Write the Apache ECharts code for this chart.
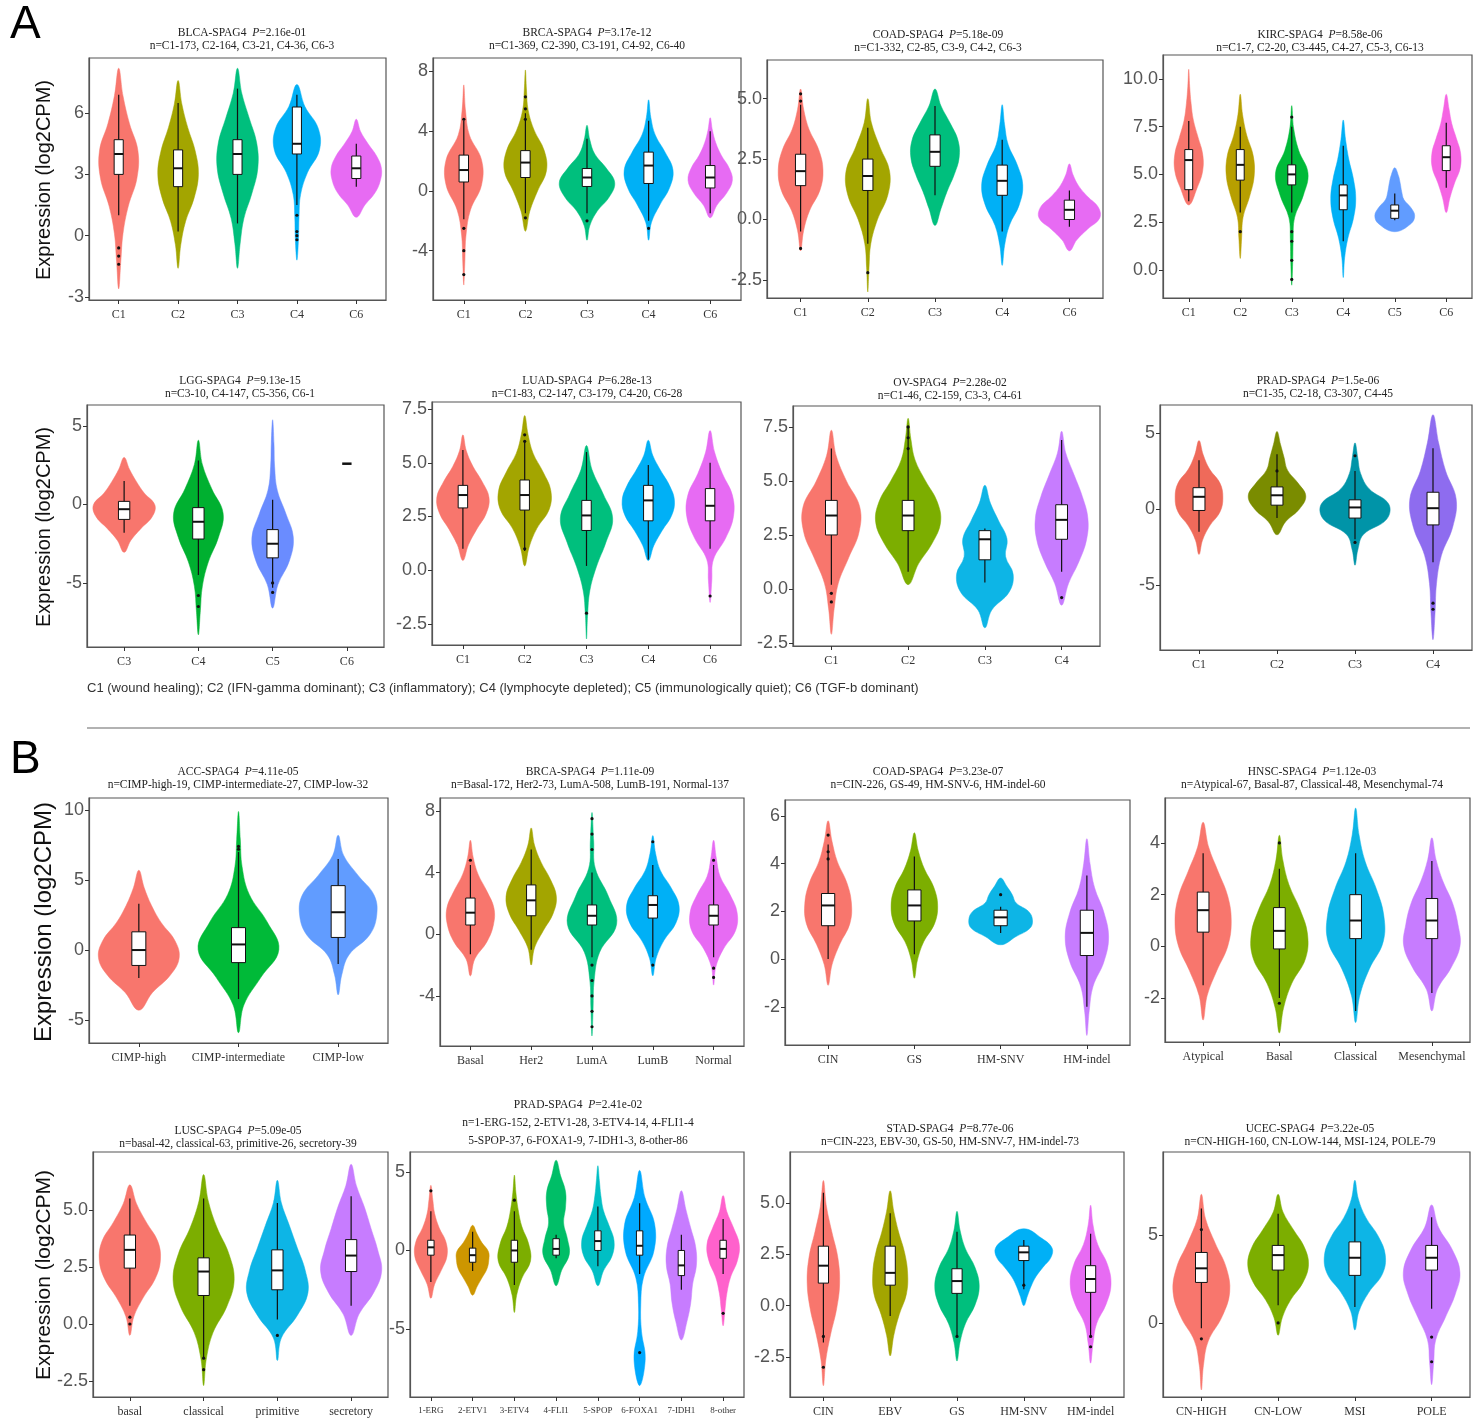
<!DOCTYPE html>
<html>
<head>
<meta charset="utf-8">
<script src="https://cdn.jsdelivr.net/npm/echarts@6/dist/echarts.min.js"></script>
<style>
  html, body { margin: 0; padding: 0; background: #fff; }
  #main { width: 1484px; height: 1418px; }
</style>
</head>
<body>
<div id="main"></div>
<script>
// violin = [low end, high end, 7 half widths (category units) evenly spaced between]
// box = [whisker low, q1, median, q3, whisker high]
var p1Groups = ['C1', 'C2', 'C3', 'C4', 'C6'];
var p1Violin = [
  [-2.6, 8.2, 0.04, 0.08, 0.18, 0.34, 0.36, 0.2, 0.08],
  [-1.6, 7.6, 0.05, 0.14, 0.3, 0.38, 0.32, 0.18, 0.07],
  [-1.6, 8.2, 0.05, 0.12, 0.27, 0.38, 0.36, 0.22, 0.08],
  [-1.2, 7.4, 0.03, 0.04, 0.07, 0.2, 0.42, 0.4, 0.15],
  [0.9, 5.7, 0.16, 0.35, 0.45, 0.47, 0.38, 0.22, 0.08]
];
var p1Box = [[1.0, 3.0, 4.0, 4.7, 6.9], [0.2, 2.4, 3.3, 4.2, 6.5], [0.6, 3.0, 4.0, 4.7, 7.2], [1.5, 4.0, 4.5, 6.3, 6.9], [2.4, 2.8, 3.3, 3.9, 4.5]];
var p1Out = [[-0.6, -1.0, -1.4], [], [], [0.2, 0.0, -0.2, 1.0], []];

var p2Groups = ['C1', 'C2', 'C3', 'C4', 'C6'];
var p2Violin = [
  [-6.3, 7.1, 0.02, 0.04, 0.12, 0.32, 0.32, 0.1, 0.03],
  [-2.7, 8.1, 0.08, 0.22, 0.38, 0.34, 0.16, 0.05, 0.02],
  [-3.3, 4.4, 0.05, 0.18, 0.4, 0.5, 0.35, 0.14, 0.05],
  [-3.3, 6.1, 0.05, 0.2, 0.38, 0.44, 0.3, 0.12, 0.04],
  [-1.8, 4.9, 0.12, 0.3, 0.4, 0.34, 0.2, 0.1, 0.04]
];
var p2Box = [[-1.9, 0.6, 1.4, 2.4, 4.7], [-1.5, 0.9, 1.9, 2.7, 5.2], [-1.5, 0.3, 0.9, 1.5, 3.5], [-2.0, 0.5, 1.7, 2.6, 4.7], [-1.5, 0.2, 0.9, 1.7, 4.0]];
var p2Out = [[-2.5, -4.0, -5.6, 4.8], [5.5, 6.3, 4.8, -1.8], [-2.0], [-2.5], []];

var p3Groups = ['C1', 'C2', 'C3', 'C4', 'C6'];
var p3Violin = [
  [-1.3, 5.4, 0.05, 0.15, 0.32, 0.37, 0.3, 0.14, 0.05],
  [-3.0, 5.0, 0.02, 0.05, 0.16, 0.33, 0.36, 0.2, 0.06],
  [-0.25, 5.4, 0.1, 0.2, 0.32, 0.4, 0.38, 0.25, 0.1],
  [-1.9, 4.75, 0.04, 0.12, 0.28, 0.34, 0.25, 0.1, 0.04],
  [-1.3, 2.3, 0.12, 0.3, 0.5, 0.48, 0.3, 0.15, 0.06]
];
var p3Box = [[-0.5, 1.4, 2.0, 2.7, 4.75], [-1.0, 1.2, 1.8, 2.5, 3.8], [1.0, 2.2, 2.8, 3.5, 4.7], [-0.5, 1.0, 1.6, 2.25, 3.3], [-0.3, 0.0, 0.4, 0.8, 1.2]];
var p3Out = [[-1.2, 5.2, 4.9], [-2.2], [], [], []];

var p4Groups = ['C1', 'C2', 'C3', 'C4', 'C5', 'C6'];
var p4Violin = [
  [3.4, 10.5, 0.18, 0.3, 0.3, 0.2, 0.1, 0.05, 0.02],
  [0.6, 9.2, 0.03, 0.06, 0.2, 0.3, 0.28, 0.14, 0.05],
  [-0.8, 8.6, 0.02, 0.03, 0.06, 0.25, 0.35, 0.15, 0.04],
  [-0.4, 7.85, 0.03, 0.1, 0.22, 0.27, 0.22, 0.12, 0.05],
  [2.0, 5.35, 0.35, 0.43, 0.35, 0.2, 0.15, 0.12, 0.08],
  [3.0, 9.2, 0.08, 0.18, 0.3, 0.31, 0.22, 0.12, 0.06]
];
var p4Box = [[3.6, 4.2, 5.75, 6.3, 7.8], [3.0, 4.7, 5.5, 6.3, 7.5], [3.0, 4.45, 5.0, 5.5, 7.5], [1.5, 3.15, 3.9, 4.45, 6.5], [2.6, 2.7, 3.1, 3.4, 4.0], [4.3, 5.2, 5.9, 6.5, 7.7]];
var p4Out = [[], [2.0], [-0.5, 0.5, 1.5, 2.0, 8.0], [], [], []];

var p5Groups = ['C3', 'C4', 'C5', 'C6'];
var p5Violin = [
  [-3.05, 3.0, 0.1, 0.25, 0.42, 0.46, 0.3, 0.18, 0.08],
  [-8.3, 4.1, 0.03, 0.06, 0.15, 0.3, 0.37, 0.2, 0.06],
  [-6.6, 5.4, 0.08, 0.25, 0.31, 0.2, 0.07, 0.03, 0.02],
  null
];
var p5Box = [[-1.8, -0.95, -0.3, 0.2, 1.5], [-4.5, -2.2, -1.1, -0.2, 2.8], [-5.3, -3.4, -2.5, -1.6, 0.3], [2.6, 2.6, 2.6, 2.6, 2.6]];
var p5Out = [[], [-5.8, -6.5], [-5.0, -5.6], []];

var p6Groups = ['C1', 'C2', 'C3', 'C4', 'C6'];
var p6Violin = [
  [0.45, 6.3, 0.1, 0.25, 0.42, 0.47, 0.35, 0.18, 0.06],
  [0.2, 7.2, 0.08, 0.22, 0.44, 0.47, 0.33, 0.15, 0.06],
  [-3.2, 5.8, 0.02, 0.06, 0.18, 0.35, 0.47, 0.3, 0.1],
  [0.45, 6.05, 0.1, 0.25, 0.42, 0.47, 0.38, 0.22, 0.08],
  [-1.5, 6.5, 0.03, 0.06, 0.28, 0.42, 0.4, 0.22, 0.08]
];
var p6Box = [[1.0, 2.9, 3.5, 3.95, 5.6], [0.9, 2.8, 3.5, 4.2, 6.0], [0.2, 1.85, 2.55, 3.25, 5.5], [0.5, 2.3, 3.25, 3.95, 4.9], [1.0, 2.3, 3.0, 3.8, 5.0]];
var p6Out = [[], [6.0, 6.3, 1.0], [-2.0], [], [-1.2]];

var p7Groups = ['C1', 'C2', 'C3', 'C4'];
var p7Violin = [
  [-2.1, 7.35, 0.04, 0.1, 0.25, 0.4, 0.41, 0.22, 0.07],
  [0.2, 7.9, 0.15, 0.35, 0.47, 0.42, 0.25, 0.1, 0.04],
  [-1.8, 4.8, 0.1, 0.35, 0.41, 0.3, 0.32, 0.2, 0.08],
  [-0.75, 7.3, 0.1, 0.25, 0.36, 0.38, 0.3, 0.18, 0.06]
];
var p7Box = [[0.2, 2.5, 3.4, 4.1, 6.5], [0.8, 2.7, 3.4, 4.1, 7.5], [0.3, 1.35, 2.3, 2.7, 2.8], [0.8, 2.3, 3.2, 3.9, 6.9]];
var p7Out = [[-0.2, -0.6], [6.5, 7.0, 7.5], [], [-0.4]];

var p8Groups = ['C1', 'C2', 'C3', 'C4'];
var p8Violin = [
  [-3.0, 4.5, 0.05, 0.15, 0.3, 0.34, 0.3, 0.15, 0.06],
  [-1.7, 5.1, 0.12, 0.32, 0.41, 0.3, 0.15, 0.1, 0.05],
  [-3.7, 4.35, 0.04, 0.12, 0.45, 0.48, 0.2, 0.08, 0.04],
  [-8.6, 6.2, 0.03, 0.05, 0.12, 0.28, 0.33, 0.18, 0.08]
];
var p8Box = [[-1.5, -0.1, 0.8, 1.4, 3.2], [-0.6, 0.25, 0.9, 1.45, 3.6], [-2.0, -0.6, 0.1, 0.6, 2.5], [-3.5, -1.05, 0.05, 1.1, 4.0]];
var p8Out = [[], [2.5], [3.5, -2.2], [-6.2, -6.6]];

var p9Groups = ['CIMP-high', 'CIMP-intermediate', 'CIMP-low'];
var p9Violin = [
  [-4.3, 5.7, 0.15, 0.35, 0.45, 0.4, 0.25, 0.14, 0.06],
  [-5.9, 9.9, 0.06, 0.25, 0.45, 0.32, 0.12, 0.04, 0.02],
  [-3.2, 8.2, 0.04, 0.12, 0.35, 0.43, 0.4, 0.22, 0.06]
];
var p9Box = [[-2.0, -1.1, 0.0, 1.3, 3.3], [-3.5, -0.9, 0.4, 1.6, 7.0], [-1.0, 0.9, 2.7, 4.6, 6.5]];
var p9Out = [[], [7.2, 7.4], []];

var p10Groups = ['Basal', 'Her2', 'LumA', 'LumB', 'Normal'];
var p10Violin = [
  [-2.7, 6.1, 0.08, 0.3, 0.42, 0.43, 0.3, 0.14, 0.05],
  [-2.0, 6.9, 0.06, 0.22, 0.4, 0.46, 0.35, 0.18, 0.06],
  [-6.6, 7.9, 0.02, 0.04, 0.14, 0.45, 0.3, 0.06, 0.03],
  [-2.7, 6.4, 0.06, 0.2, 0.42, 0.48, 0.34, 0.14, 0.05],
  [-3.3, 6.1, 0.04, 0.18, 0.4, 0.43, 0.3, 0.12, 0.05]
];
var p10Box = [[-1.3, 0.6, 1.4, 2.35, 4.5], [-1.0, 1.2, 2.2, 3.2, 5.5], [-1.5, 0.6, 1.2, 1.9, 4.0], [-1.5, 1.05, 1.9, 2.5, 4.5], [-1.5, 0.6, 1.2, 1.9, 4.5]];
var p10Out = [[4.8], [], [-2, -3, -4, -5, -6, 5.5, 6.5, 7.5], [6.0, -2.0], [4.8, -2.2, -2.8]];

var p11Groups = ['CIN', 'GS', 'HM-SNV', 'HM-indel'];
var p11Violin = [
  [-1.1, 5.8, 0.05, 0.15, 0.28, 0.3, 0.24, 0.12, 0.05],
  [-0.8, 5.3, 0.04, 0.12, 0.26, 0.3, 0.25, 0.13, 0.05],
  [0.6, 3.4, 0.2, 0.38, 0.41, 0.36, 0.2, 0.15, 0.08],
  [-3.2, 5.05, 0.03, 0.08, 0.22, 0.28, 0.22, 0.1, 0.04]
];
var p11Box = [[0.0, 1.4, 2.25, 2.75, 4.8], [0.2, 1.6, 2.25, 2.9, 4.3], [1.1, 1.4, 1.75, 2.05, 2.2], [-2.0, 0.15, 1.1, 2.05, 3.5]];
var p11Out = [[4.5, 4.2, 5.2], [], [2.7], []];

var p12Groups = ['Atypical', 'Basal', 'Classical', 'Mesenchymal'];
var p12Violin = [
  [-2.85, 4.8, 0.06, 0.2, 0.36, 0.41, 0.36, 0.22, 0.08],
  [-3.35, 4.3, 0.06, 0.18, 0.38, 0.41, 0.3, 0.14, 0.05],
  [-2.95, 5.35, 0.06, 0.2, 0.4, 0.41, 0.3, 0.14, 0.05],
  [-2.5, 4.2, 0.08, 0.28, 0.41, 0.38, 0.3, 0.16, 0.06]
];
var p12Box = [[-1.5, 0.55, 1.4, 2.1, 3.6], [-2.0, -0.1, 0.6, 1.5, 3.0], [-2.5, 0.3, 1.0, 2.0, 3.6], [-1.8, 0.3, 1.0, 1.85, 3.3]];
var p12Out = [[], [4.0, -2.2], [], []];

var p13Groups = ['basal', 'classical', 'primitive', 'secretory'];
var p13Violin = [
  [-0.5, 6.1, 0.06, 0.2, 0.38, 0.46, 0.42, 0.25, 0.1],
  [-2.7, 6.55, 0.04, 0.14, 0.35, 0.46, 0.38, 0.2, 0.07],
  [-1.6, 6.3, 0.06, 0.3, 0.46, 0.42, 0.3, 0.18, 0.06],
  [-0.5, 7.0, 0.12, 0.34, 0.46, 0.4, 0.3, 0.2, 0.08]
];
var p13Box = [[0.8, 2.45, 3.25, 3.9, 5.5], [-1.5, 1.25, 2.3, 2.9, 5.5], [0.2, 1.5, 2.35, 3.25, 5.3], [0.8, 2.3, 3.0, 3.7, 5.6]];
var p13Out = [[0.3, 0.0], [-1.5, -2.0], [-0.5], []];

var p14Groups = ['1-ERG', '2-ETV1', '3-ETV4', '4-FLI1', '5-SPOP', '6-FOXA1', '7-IDH1', '8-other'];
var p14Violin = [
  [-3.05, 4.15, 0.1, 0.28, 0.43, 0.4, 0.22, 0.1, 0.05],
  [-2.85, 1.6, 0.12, 0.25, 0.38, 0.43, 0.42, 0.25, 0.12],
  [-3.95, 4.8, 0.06, 0.2, 0.43, 0.38, 0.2, 0.1, 0.04],
  [-2.25, 5.75, 0.15, 0.35, 0.3, 0.2, 0.25, 0.25, 0.12],
  [-2.25, 5.4, 0.15, 0.38, 0.43, 0.3, 0.15, 0.08, 0.04],
  [-8.6, 5.1, 0.15, 0.05, 0.03, 0.1, 0.38, 0.4, 0.14],
  [-5.7, 3.8, 0.15, 0.25, 0.3, 0.4, 0.38, 0.25, 0.12],
  [-4.8, 3.5, 0.05, 0.1, 0.2, 0.38, 0.43, 0.28, 0.1]
];
var p14Box = [[-2.0, -0.3, 0.2, 0.65, 2.5], [-1.3, -0.75, -0.3, 0.15, 1.2], [-2.2, -0.75, 0.0, 0.65, 2.5], [-0.5, -0.3, 0.1, 0.75, 1.0], [-1.0, 0.0, 0.6, 1.25, 2.8], [-1.5, -0.3, 0.3, 1.25, 3.0], [-2.5, -1.6, -0.95, 0.0, 1.0], [-1.5, -0.5, 0.1, 0.65, 2.0]];
var p14Out = [[3.8], [], [3.2], [], [], [-6.5], [], [-4.0]];

var p15Groups = ['CIN', 'EBV', 'GS', 'HM-SNV', 'HM-indel'];
var p15Violin = [
  [-3.9, 6.1, 0.04, 0.12, 0.22, 0.27, 0.24, 0.14, 0.05],
  [-2.45, 5.6, 0.06, 0.15, 0.27, 0.29, 0.24, 0.14, 0.06],
  [-2.7, 4.6, 0.05, 0.14, 0.3, 0.37, 0.3, 0.14, 0.05],
  [0.0, 3.75, 0.06, 0.12, 0.2, 0.32, 0.45, 0.47, 0.3],
  [-2.8, 4.9, 0.04, 0.1, 0.26, 0.34, 0.28, 0.12, 0.04]
];
var p15Box = [[-1.8, 1.1, 1.95, 2.9, 5.5], [-0.5, 1.0, 1.6, 2.9, 4.5], [-1.5, 0.6, 1.2, 1.8, 3.6], [0.8, 2.2, 2.6, 2.9, 3.2], [-1.5, 0.65, 1.3, 1.95, 3.5]];
var p15Out = [[-1.5, -3.0], [], [-1.5], [1.0], [-1.5, -2.0]];

var p16Groups = ['CN-HIGH', 'CN-LOW', 'MSI', 'POLE'];
var p16Violin = [
  [-3.8, 7.3, 0.03, 0.1, 0.3, 0.41, 0.36, 0.2, 0.06],
  [-0.7, 7.3, 0.06, 0.18, 0.36, 0.44, 0.38, 0.22, 0.07],
  [-0.4, 8.1, 0.06, 0.2, 0.4, 0.44, 0.34, 0.16, 0.05],
  [-3.5, 6.7, 0.03, 0.06, 0.2, 0.34, 0.41, 0.3, 0.1]
];
var p16Box = [[-0.3, 2.3, 3.1, 4.0, 6.5], [1.0, 3.0, 3.85, 4.4, 6.2], [0.9, 2.7, 3.7, 4.6, 6.5], [0.8, 3.0, 3.7, 4.4, 6.0]];
var p16Out = [[-0.9, 5.3], [0.0], [], [-2.2, -0.8]];

var p1Title = ['BLCA-SPAG4', '2.16e-01', 'n=C1-173, C2-164, C3-21, C4-36, C6-3'];
var p2Title = ['BRCA-SPAG4', '3.17e-12', 'n=C1-369, C2-390, C3-191, C4-92, C6-40'];
var p3Title = ['COAD-SPAG4', '5.18e-09', 'n=C1-332, C2-85, C3-9, C4-2, C6-3'];
var p4Title = ['KIRC-SPAG4', '8.58e-06', 'n=C1-7, C2-20, C3-445, C4-27, C5-3, C6-13'];
var p5Title = ['LGG-SPAG4', '9.13e-15', 'n=C3-10, C4-147, C5-356, C6-1'];
var p6Title = ['LUAD-SPAG4', '6.28e-13', 'n=C1-83, C2-147, C3-179, C4-20, C6-28'];
var p7Title = ['OV-SPAG4', '2.28e-02', 'n=C1-46, C2-159, C3-3, C4-61'];
var p8Title = ['PRAD-SPAG4', '1.5e-06', 'n=C1-35, C2-18, C3-307, C4-45'];
var p9Title = ['ACC-SPAG4', '4.11e-05', 'n=CIMP-high-19, CIMP-intermediate-27, CIMP-low-32'];
var p10Title = ['BRCA-SPAG4', '1.11e-09', 'n=Basal-172, Her2-73, LumA-508, LumB-191, Normal-137'];
var p11Title = ['COAD-SPAG4', '3.23e-07', 'n=CIN-226, GS-49, HM-SNV-6, HM-indel-60'];
var p12Title = ['HNSC-SPAG4', '1.12e-03', 'n=Atypical-67, Basal-87, Classical-48, Mesenchymal-74'];
var p13Title = ['LUSC-SPAG4', '5.09e-05', 'n=basal-42, classical-63, primitive-26, secretory-39'];
var p14Title = ['PRAD-SPAG4', '2.41e-02', 'n=1-ERG-152, 2-ETV1-28, 3-ETV4-14, 4-FLI1-4', '5-SPOP-37, 6-FOXA1-9, 7-IDH1-3, 8-other-86'];
var p15Title = ['STAD-SPAG4', '8.77e-06', 'n=CIN-223, EBV-30, GS-50, HM-SNV-7, HM-indel-73'];
var p16Title = ['UCEC-SPAG4', '3.22e-05', 'n=CN-HIGH-160, CN-LOW-144, MSI-124, POLE-79'];

var footnote = 'C1 (wound healing); C2 (IFN-gamma dominant); C3 (inflammatory); C4 (lymphocyte depleted); C5 (immunologically quiet); C6 (TGF-b dominant)';

var col5 = ['#F8766D', '#A3A500', '#00BF7D', '#00B0F6', '#E76BF3'];
var col4 = ['#F8766D', '#7CAE00', '#0DB5E6', '#C77CFF'];
var widthScale = 0.9;

var panels = [
  {g: p1Groups, v: p1Violin, b: p1Box, o: p1Out, t: p1Title, c: col5, rect: [89, 58, 297, 242], y: [-3.15, 8.7], ticks: [-3, 0, 3, 6], dec: 0, tx: 242, ty: 26},
  {g: p2Groups, v: p2Violin, b: p2Box, o: p2Out, t: p2Title, c: col5, rect: [433, 58, 308, 242], y: [-7.3, 8.9], ticks: [-4, 0, 4, 8], dec: 0, tx: 587, ty: 26},
  {g: p3Groups, v: p3Violin, b: p3Box, o: p3Out, t: p3Title, c: col5, rect: [767, 60, 336, 238], y: [-3.25, 6.6], ticks: [-2.5, 0, 2.5, 5], dec: 1, tx: 938, ty: 28},
  {g: p4Groups, v: p4Violin, b: p4Box, o: p4Out, t: p4Title, c: ['#F8766D', '#B79F00', '#00BA38', '#00B0F6', '#619CFF', '#F564E3'], rect: [1163, 55, 309, 243], y: [-1.47, 11.25], ticks: [0, 2.5, 5, 7.5, 10], dec: 1, tx: 1320, ty: 28},
  {g: p5Groups, v: p5Violin, b: p5Box, o: p5Out, t: p5Title, c: ['#F8766D', '#00B030', '#6A8CFF', '#000'], rect: [87, 405, 297, 242], y: [-9.08, 6.34], ticks: [-5, 0, 5], dec: 0, tx: 240, ty: 374},
  {g: p6Groups, v: p6Violin, b: p6Box, o: p6Out, t: p6Title, c: col5, rect: [432, 402, 309, 243], y: [-3.48, 7.83], ticks: [-2.5, 0, 2.5, 5, 7.5], dec: 1, tx: 587, ty: 374},
  {g: p7Groups, v: p7Violin, b: p7Box, o: p7Out, t: p7Title, c: col4, rect: [793, 406, 307, 240], y: [-2.64, 8.47], ticks: [-2.5, 0, 2.5, 5, 7.5], dec: 1, tx: 950, ty: 376},
  {g: p8Groups, v: p8Violin, b: p8Box, o: p8Out, t: p8Title, c: ['#EF6A5A', '#7A8C00', '#0094A8', '#8E6CEF'], rect: [1160, 405, 312, 245], y: [-9.28, 6.84], ticks: [-5, 0, 5], dec: 0, tx: 1318, ty: 374},
  {g: p9Groups, v: p9Violin, b: p9Box, o: p9Out, t: p9Title, c: ['#F8766D', '#00BA38', '#619CFF'], rect: [89, 798, 299, 245], y: [-6.64, 10.86], ticks: [-5, 0, 5, 10], dec: 0, tx: 238, ty: 765},
  {g: p10Groups, v: p10Violin, b: p10Box, o: p10Out, t: p10Title, c: col5, rect: [440, 798, 304, 248], y: [-7.25, 8.84], ticks: [-4, 0, 4, 8], dec: 0, tx: 590, ty: 765},
  {g: p11Groups, v: p11Violin, b: p11Box, o: p11Out, t: p11Title, c: col4, rect: [785, 800, 345, 245], y: [-3.6, 6.67], ticks: [-2, 0, 2, 4, 6], dec: 0, tx: 938, ty: 765},
  {g: p12Groups, v: p12Violin, b: p12Box, o: p12Out, t: p12Title, c: col4, rect: [1165, 798, 305, 244], y: [-3.7, 5.74], ticks: [-2, 0, 2, 4], dec: 0, tx: 1312, ty: 765},
  {g: p13Groups, v: p13Violin, b: p13Box, o: p13Out, t: p13Title, c: col4, rect: [93, 1152, 295, 245], y: [-3.2, 7.54], ticks: [-2.5, 0, 2.5, 5], dec: 1, tx: 238, ty: 1124},
  {g: p14Groups, v: p14Violin, b: p14Box, o: p14Out, t: p14Title, c: ['#F8766D', '#CD9600', '#7CAE00', '#00BE67', '#00BFC4', '#00A9FF', '#C77CFF', '#FF61CC'], rect: [410, 1152, 334, 245], y: [-9.33, 6.27], ticks: [-5, 0, 5], dec: 0, tx: 578, ty: 1096, xfs: 9},
  {g: p15Groups, v: p15Violin, b: p15Box, o: p15Out, t: p15Title, c: col5, rect: [790, 1152, 334, 245], y: [-4.45, 7.49], ticks: [-2.5, 0, 2.5, 5], dec: 1, tx: 950, ty: 1122},
  {g: p16Groups, v: p16Violin, b: p16Box, o: p16Out, t: p16Title, c: col4, rect: [1163, 1152, 307, 245], y: [-4.2, 9.7], ticks: [0, 5], dec: 0, tx: 1310, ty: 1122}
];

var dom = document.getElementById('main');
var myChart = echarts.init(dom, null, {renderer: 'canvas'});

function makeRender(p) {
  return function (params, api) {
    var k = params.dataIndex;
    var cx = api.coord([k, 0])[0];
    var band = api.size([1, 0])[0] * widthScale;
    var children = [];
    var v = p.v[k];
    var b = p.b[k];
    if (v) {
      var lo = v[0], hi = v[1], w = v.slice(2);
      var step = (hi - lo) / (w.length + 1);
      var right = [], left = [];
      for (var i = 0; i < w.length; i++) {
        var py = api.coord([k, lo + (i + 1) * step])[1];
        right.push([cx + w[i] * band, py]);
        left.unshift([cx - w[i] * band, py]);
      }
      var pts = [[cx, api.coord([k, lo])[1]]].concat(right, [[cx, api.coord([k, hi])[1]]], left);
      children.push({
        type: 'polygon',
        shape: {points: pts, smooth: 0.4},
        style: {fill: p.c[k], stroke: p.c[k], lineWidth: 0.5}
      });
      var bw = Math.max(6, Math.min(band * 0.17, 14));
      var yw0 = api.coord([k, b[0]])[1], yq1 = api.coord([k, b[1]])[1];
      var ym = api.coord([k, b[2]])[1], yq3 = api.coord([k, b[3]])[1];
      var yw1 = api.coord([k, b[4]])[1];
      children.push({type: 'line', shape: {x1: cx, y1: yw0, x2: cx, y2: yw1}, style: {stroke: '#111', lineWidth: 1.2}});
      children.push({type: 'rect', shape: {x: cx - bw / 2, y: yq3, width: bw, height: yq1 - yq3}, style: {fill: '#fff', stroke: '#111', lineWidth: 1}});
      children.push({type: 'line', shape: {x1: cx - bw / 2, y1: ym, x2: cx + bw / 2, y2: ym}, style: {stroke: '#111', lineWidth: 2}});
    } else {
      var yd = api.coord([k, b[2]])[1];
      children.push({type: 'line', shape: {x1: cx - 0.07 * band, y1: yd, x2: cx + 0.07 * band, y2: yd}, style: {stroke: '#111', lineWidth: 2.5}});
    }
    (p.o[k] || []).forEach(function (val) {
      var c = api.coord([k, val]);
      children.push({type: 'circle', shape: {cx: cx, cy: c[1], r: 1.6}, style: {fill: '#111'}});
    });
    return {type: 'group', children: children};
  };
}

var grids = [], xAxes = [], yAxes = [], series = [], graphics = [];

panels.forEach(function (p, i) {
  grids.push({
    left: p.rect[0], top: p.rect[1], width: p.rect[2], height: p.rect[3],
    show: true, borderColor: '#555', borderWidth: 1.2, backgroundColor: '#fff'
  });
  xAxes.push({
    gridIndex: i, type: 'category', data: p.g,
    axisLine: {show: true, onZero: false, lineStyle: {color: '#555', width: 1.2}},
    axisTick: {show: true, alignWithLabel: true, length: 4, lineStyle: {color: '#333'}},
    axisLabel: {interval: 0, margin: 9, fontFamily: 'Liberation Serif', fontSize: p.xfs || 12, color: '#333'},
    splitLine: {show: false}
  });
  yAxes.push({
    gridIndex: i, type: 'value', min: p.y[0], max: p.y[1],
    splitLine: {show: false},
    axisLine: {show: true, onZero: false, lineStyle: {color: '#555', width: 1.2}},
    axisTick: {show: true, length: 4, customValues: p.ticks, lineStyle: {color: '#333'}},
    axisLabel: {
      customValues: p.ticks, margin: 5, fontFamily: 'Liberation Sans', fontSize: 18, color: '#555',
      formatter: function (val) { return p.dec ? val.toFixed(1) : String(val); }
    }
  });
  series.push({
    type: 'custom', xAxisIndex: i, yAxisIndex: i, silent: true,
    data: p.g.map(function (g, k) { return [k, p.b[k][2]]; }),
    encode: {x: 0, y: 1},
    renderItem: makeRender(p)
  });
  graphics.push({
    type: 'text', x: p.tx, y: p.ty, silent: true,
    style: {
      text: p.t[0] + '  {i|P}=' + p.t[1] + '\n' + p.t.slice(2).join('\n'),
      align: 'center', verticalAlign: 'top',
      font: '11.5px "Liberation Serif"', fill: '#222', lineHeight: p.t.length > 3 ? 18 : 13,
      rich: {i: {fontStyle: 'italic', fontFamily: 'Liberation Serif', fontSize: 11.5, fill: '#222'}}
    }
  });
});

// row y-axis titles, panel letters, divider and footnote
[[180, 20], [527, 20], [922, 24], [1275, 21]].forEach(function (r) {
  graphics.push({
    type: 'text', x: 44, y: r[0], rotation: Math.PI / 2, silent: true,
    style: {text: 'Expression (log2CPM)', align: 'center', verticalAlign: 'middle',
      font: r[1] + 'px "Liberation Sans"', fill: '#111'}
  });
});
graphics.push({type: 'text', x: 10, y: 2, style: {text: 'A', font: '46px "Liberation Sans"', fill: '#000'}});
graphics.push({type: 'text', x: 10, y: 737, style: {text: 'B', font: '46px "Liberation Sans"', fill: '#000'}});
graphics.push({type: 'line', shape: {x1: 87, y1: 728, x2: 1470, y2: 728}, style: {stroke: '#666', lineWidth: 1.2}});
graphics.push({type: 'text', x: 87, y: 688, style: {text: footnote, verticalAlign: 'middle', font: '13px "Liberation Sans"', fill: '#333'}});

option = {
  backgroundColor: '#fff',
  animation: false,
  grid: grids,
  xAxis: xAxes,
  yAxis: yAxes,
  series: series,
  graphic: graphics
};

myChart.setOption(option);
</script>
</body>
</html>
